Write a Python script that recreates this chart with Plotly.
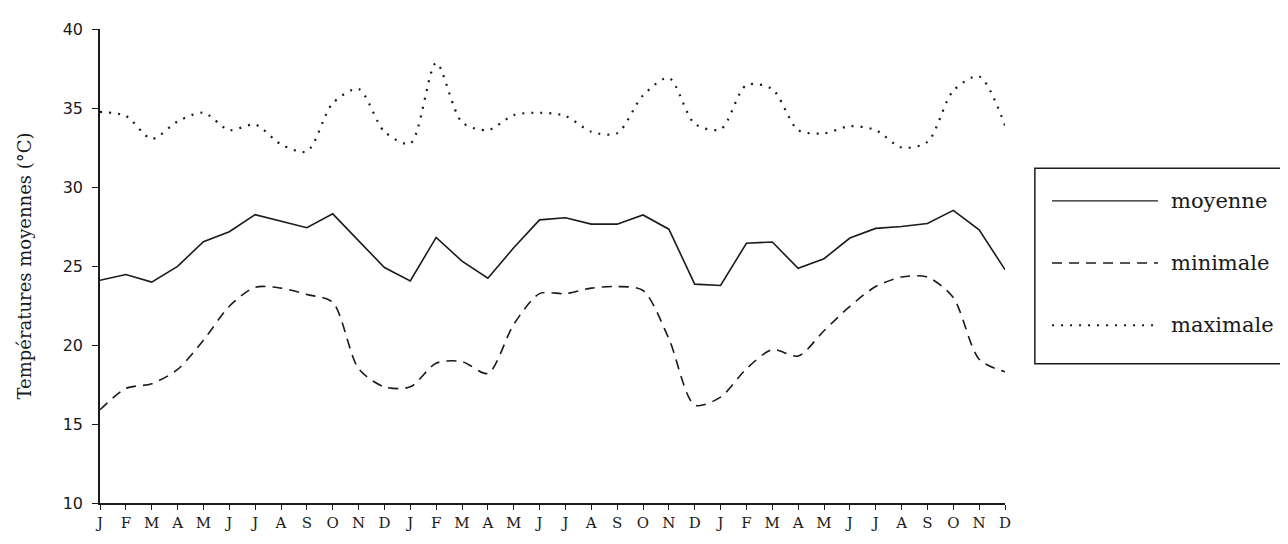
import plotly.graph_objects as go

months = ["J", "F", "M", "A", "M", "J", "J", "A", "S", "O", "N", "D"] * 3

moyenne = [24.1, 24.46, 23.98, 24.98, 26.54, 27.17, 28.25, 27.83, 27.42, 28.3, 26.6, 24.9,
           24.06, 26.81, 25.31, 24.23, 26.15, 27.92, 28.05, 27.65, 27.65, 28.23, 27.33, 23.85,
           23.77, 26.44, 26.52, 24.85, 25.46, 26.77, 27.38, 27.5, 27.69, 28.52, 27.29, 24.77]

minimale = [15.9, 17.25, 17.55, 18.45, 20.3, 22.45, 23.65, 23.6, 23.2, 22.7, 18.5, 17.35,
            17.35, 18.85, 18.95, 18.2, 21.3, 23.25, 23.25, 23.6, 23.7, 23.45, 20.4, 16.2,
            16.7, 18.5, 19.7, 19.3, 20.9, 22.45, 23.7, 24.3, 24.3, 23.0, 19.1, 18.3]

maximale = [34.75, 34.5, 33.05, 34.15, 34.7, 33.6, 33.95, 32.7, 32.25, 35.3, 36.2, 33.5,
            32.75, 37.85, 34.1, 33.6, 34.55, 34.7, 34.5, 33.5, 33.4, 35.8, 36.9, 34.0,
            33.65, 36.45, 36.2, 33.6, 33.4, 33.85, 33.6, 32.5, 32.85, 36.1, 37.0, 33.9]

y_ticks = [10, 15, 20, 25, 30, 35, 40]
series_names = ["moyenne", "minimale", "maximale"]

x = list(range(len(months)))

ink = "#1a1a1a"
fig = go.Figure()
fig.add_trace(go.Scatter(x=x, y=moyenne, mode="lines", name=series_names[0],
                         line=dict(color=ink, width=1.6)))
fig.add_trace(go.Scatter(x=x, y=minimale, mode="lines", name=series_names[1],
                         line=dict(color=ink, width=1.6, dash="10px,7px",
                                   shape="spline", smoothing=0.8)))
fig.add_trace(go.Scatter(x=x, y=maximale, mode="lines", name=series_names[2],
                         line=dict(color=ink, width=2.2, dash="2px,7px",
                                   shape="spline", smoothing=0.8)))

serif = "DejaVu Serif, Liberation Serif, serif"
sans = "DejaVu Sans, Liberation Sans, sans-serif"

# the page adds an 8px body margin, so the figure is sized/offset to compensate
fig.update_layout(
    width=1280, height=536,
    margin=dict(l=92, r=283, t=18, b=38),
    paper_bgcolor="white", plot_bgcolor="white",
    showlegend=False,
    xaxis=dict(
        range=[0, 35], tickmode="array", tickvals=x, ticktext=months,
        showgrid=False, zeroline=False, showline=True, linecolor=ink, linewidth=1.5,
        ticks="outside", ticklen=5, tickwidth=1.2, tickcolor=ink,
        tickfont=dict(family=serif, size=15, color=ink),
    ),
    yaxis=dict(
        range=[10, 40], tickmode="array", tickvals=y_ticks,
        showgrid=False, zeroline=False, showline=True, linecolor=ink, linewidth=1.5,
        ticks="outside", ticklen=6, tickwidth=1.2, tickcolor=ink,
        ticklabelstandoff=6,
        tickfont=dict(family=sans, size=16, color=ink),
        title=dict(text="Températures moyennes (°C)", standoff=26,
                   font=dict(family=serif, size=18, color=ink)),
    ),
)

# custom legend box (paper coordinates)
fig.add_shape(type="rect", xref="paper", yref="paper", x0=1.033, x1=1.33, y0=0.294, y1=0.706,
              line=dict(color=ink, width=1.5), fillcolor="white", layer="below")
rows_y = [0.6375, 0.50625, 0.375]
dashes = ["solid", "10px,7px", "2px,7px"]
widths = [1.4, 1.4, 2.0]
for name, yy, d, w in zip(series_names, rows_y, dashes, widths):
    fig.add_shape(type="line", xref="paper", yref="paper", x0=1.052, x1=1.169, y0=yy, y1=yy,
                  line=dict(color=ink, width=w, dash=d))
    fig.add_annotation(xref="paper", yref="paper", x=1.181, y=yy, text=name, showarrow=False,
                       xanchor="left", yanchor="middle",
                       font=dict(family=serif, size=21, color=ink))

fig.write_html("out.html")
